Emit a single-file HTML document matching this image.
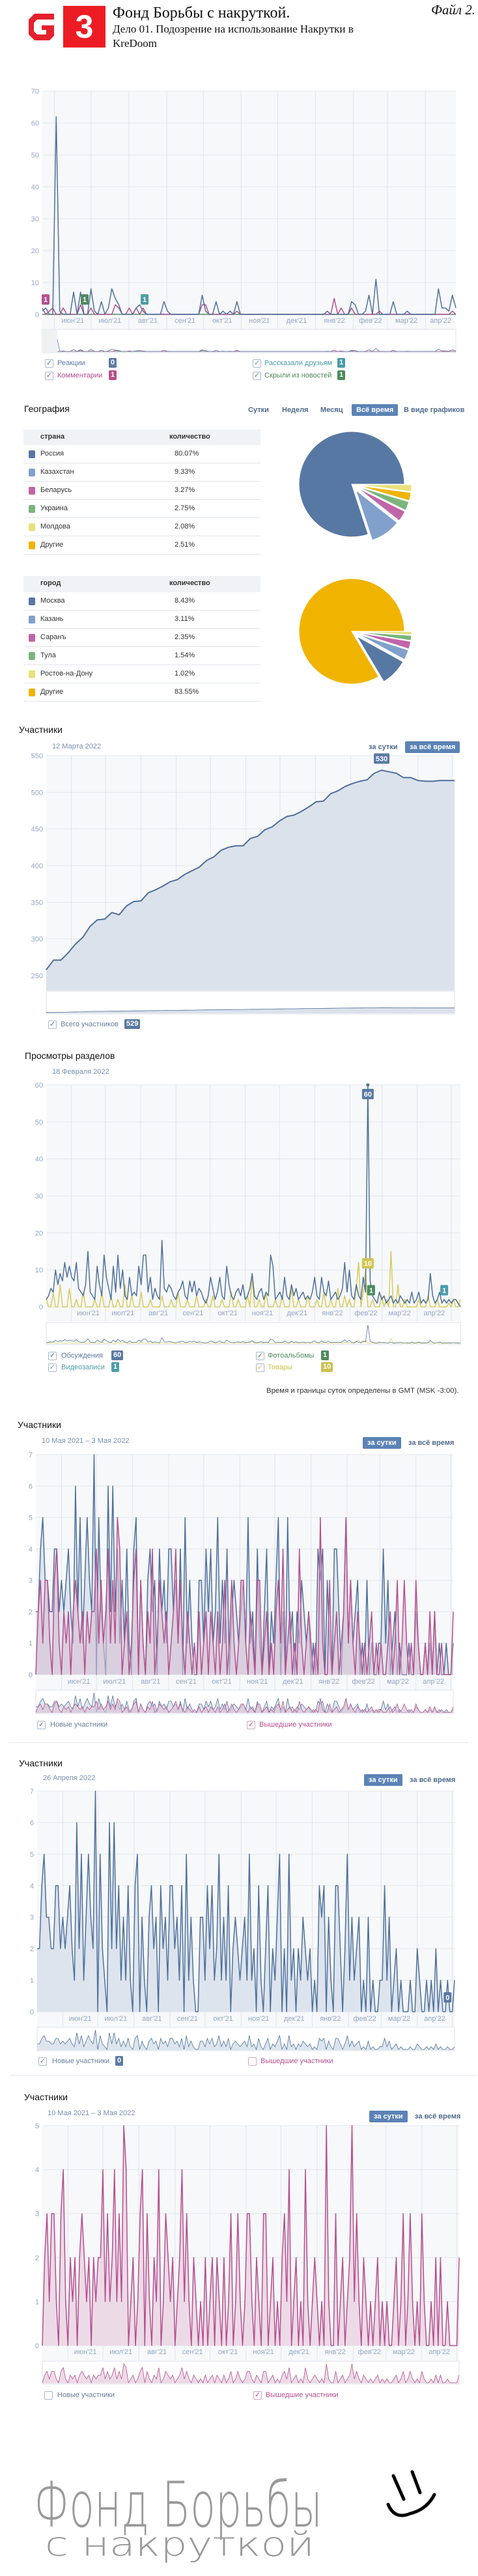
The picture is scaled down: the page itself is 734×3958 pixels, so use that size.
<!DOCTYPE html>
<html lang="ru"><head><meta charset="utf-8"><title>Фонд Борьбы с накруткой — Дело 01</title>
<style>
html,body{margin:0;padding:0;background:#fff;}
body{width:734px;height:3958px;position:relative;overflow:hidden;font-family:"Liberation Sans","DejaVu Sans",sans-serif;}
.a{position:absolute;white-space:nowrap;}
.serif{font-family:"Liberation Serif","DejaVu Serif",serif;color:#111;}
.ttl{font-size:14px;color:#111;line-height:16px;}
.date{font-size:11px;color:#7890b3;line-height:12px;}
.btn{font-size:11px;line-height:18px;height:18px;color:#4f6a8c;font-weight:bold;padding:0 7px;border-radius:2px;}
.btn.on{background:#5b83b5;color:#fff;}
.cb{position:absolute;width:11px;height:11px;border:1px solid #a9b8cc;border-radius:2px;font-size:11px;line-height:11px;text-align:center;}
.lg{font-size:11px;line-height:12px;}
.bd{position:absolute;color:#fff;font-size:11px;line-height:15px;height:15px;padding:0 3px;border-radius:2px;font-weight:bold;}
.th{font-size:11px;font-weight:bold;color:#333;}
.td{font-size:11px;color:#333;}
.sq{position:absolute;width:10px;height:12px;border-radius:2px;}
</style></head>
<body>

<svg class="a" style="left:44px;top:21px" width="39" height="41" viewBox="0 0 39 41"><path d="M9 0H39V9H13L8 14V27L13 32H27V25H20V18H39V34L32 41H9L0 32V9Z" fill="#e5212b"/></svg>
<div class="a" style="left:97px;top:9px;width:65px;height:64px;background:#ed1c24;color:#fff;font-weight:bold;font-size:50px;line-height:64px;text-align:center;">3</div>
<div class="a serif" style="left:173px;top:6px;font-size:24px;line-height:28px;">Фонд Борьбы с накруткой.</div>
<div class="a serif" style="left:173px;top:35px;font-size:17px;line-height:20px;">Дело 01. Подозрение на использование Накрутки в</div>
<div class="a serif" style="left:173px;top:57px;font-size:17px;line-height:20px;">KreDoom</div>
<div class="a serif" style="left:662px;top:3px;font-size:21px;line-height:24px;font-style:italic;">Файл 2.</div>

<svg id="charts" class="a" style="left:0;top:0" width="734" height="3958"></svg>

<!-- chart1 legend -->
<div class="cb" style="left:69px;top:552px;color:#5a7aa3">✓</div>
<div class="a lg" style="left:88px;top:552px;color:#5a7aa3">Реакции</div>
<div class="bd" style="left:167px;top:550px;background:#5a7aa3">0</div>
<div class="cb" style="left:69px;top:571px;color:#b5508f">✓</div>
<div class="a lg" style="left:88px;top:571px;color:#b5508f">Комментарии</div>
<div class="bd" style="left:167px;top:569px;background:#b5508f">1</div>
<div class="cb" style="left:388px;top:552px;color:#4b9ca8">✓</div>
<div class="a lg" style="left:406px;top:552px;color:#4b9ca8">Рассказали друзьям</div>
<div class="bd" style="left:518px;top:550px;background:#4b9ca8">1</div>
<div class="cb" style="left:388px;top:571px;color:#4e8a5e">✓</div>
<div class="a lg" style="left:406px;top:571px;color:#4e8a5e">Скрыли из новостей</div>
<div class="bd" style="left:518px;top:569px;background:#4e8a5e">1</div>

<!-- geography -->
<div class="a ttl" style="left:37px;top:620px;">География</div>
<div class="a btn" style="left:374px;top:621px;">Сутки</div>
<div class="a btn" style="left:426px;top:621px;">Неделя</div>
<div class="a btn" style="left:485px;top:621px;">Месяц</div>
<div class="a btn on" style="left:540px;top:621px;">Всё время</div>
<div class="a btn" style="left:613px;top:621px;">В виде графиков</div>

<div class="a" style="left:36px;top:660px;width:364px;">
 <div style="height:24px;background:#f0f2f5;position:relative"><span class="a th" style="left:26px;top:5px">страна</span><span class="a th" style="left:224px;top:5px">количество</span></div>
 <div style="height:27px;border-bottom:1px solid #e2e5ea;position:relative"><span class="sq" style="left:8px;top:8px;background:#5878a4"></span><span class="a td" style="left:26px;top:7px">Россия</span><span class="a td" style="left:232px;top:7px">80.07%</span></div>
 <div style="height:27px;border-bottom:1px solid #e2e5ea;position:relative"><span class="sq" style="left:8px;top:8px;background:#81a1cc"></span><span class="a td" style="left:26px;top:7px">Казахстан</span><span class="a td" style="left:232px;top:7px">9.33%</span></div>
 <div style="height:27px;border-bottom:1px solid #e2e5ea;position:relative"><span class="sq" style="left:8px;top:8px;background:#c066a8"></span><span class="a td" style="left:26px;top:7px">Беларусь</span><span class="a td" style="left:232px;top:7px">3.27%</span></div>
 <div style="height:27px;border-bottom:1px solid #e2e5ea;position:relative"><span class="sq" style="left:8px;top:8px;background:#79b57c"></span><span class="a td" style="left:26px;top:7px">Украина</span><span class="a td" style="left:232px;top:7px">2.75%</span></div>
 <div style="height:27px;border-bottom:1px solid #e2e5ea;position:relative"><span class="sq" style="left:8px;top:8px;background:#e8e17a"></span><span class="a td" style="left:26px;top:7px">Молдова</span><span class="a td" style="left:232px;top:7px">2.08%</span></div>
 <div style="height:27px;border-bottom:1px solid #e2e5ea;position:relative"><span class="sq" style="left:8px;top:8px;background:#f0b400"></span><span class="a td" style="left:26px;top:7px">Другие</span><span class="a td" style="left:232px;top:7px">2.51%</span></div>
</div>

<div class="a" style="left:36px;top:885px;width:364px;">
 <div style="height:25px;background:#f0f2f5;position:relative"><span class="a th" style="left:26px;top:5px">город</span><span class="a th" style="left:224px;top:5px">количество</span></div>
 <div style="height:27px;border-bottom:1px solid #e2e5ea;position:relative"><span class="sq" style="left:8px;top:8px;background:#5878a4"></span><span class="a td" style="left:26px;top:7px">Москва</span><span class="a td" style="left:232px;top:7px">8.43%</span></div>
 <div style="height:27px;border-bottom:1px solid #e2e5ea;position:relative"><span class="sq" style="left:8px;top:8px;background:#81a1cc"></span><span class="a td" style="left:26px;top:7px">Казань</span><span class="a td" style="left:232px;top:7px">3.11%</span></div>
 <div style="height:27px;border-bottom:1px solid #e2e5ea;position:relative"><span class="sq" style="left:8px;top:8px;background:#c066a8"></span><span class="a td" style="left:26px;top:7px">Саранъ</span><span class="a td" style="left:232px;top:7px">2.35%</span></div>
 <div style="height:27px;border-bottom:1px solid #e2e5ea;position:relative"><span class="sq" style="left:8px;top:8px;background:#79b57c"></span><span class="a td" style="left:26px;top:7px">Тула</span><span class="a td" style="left:232px;top:7px">1.54%</span></div>
 <div style="height:27px;border-bottom:1px solid #e2e5ea;position:relative"><span class="sq" style="left:8px;top:8px;background:#e8e17a"></span><span class="a td" style="left:26px;top:7px">Ростов-на-Дону</span><span class="a td" style="left:232px;top:7px">1.02%</span></div>
 <div style="height:27px;border-bottom:1px solid #e2e5ea;position:relative"><span class="sq" style="left:8px;top:8px;background:#f0b400"></span><span class="a td" style="left:26px;top:7px">Другие</span><span class="a td" style="left:232px;top:7px">83.55%</span></div>
</div>

<!-- members total -->
<div class="a ttl" style="left:29px;top:1113px;">Участники</div>
<div class="a date" style="left:80px;top:1141px;">12 Марта 2022</div>
<div class="a btn" style="left:559px;top:1139px;">за сутки</div>
<div class="a btn on" style="left:622px;top:1139px;">за всё время</div>
<div class="cb" style="left:74px;top:1568px;color:#5a7aa3">✓</div>
<div class="a lg" style="left:93px;top:1568px;color:#6b7f9c">Всего участников</div>
<div class="bd" style="left:191px;top:1566px;background:#5a7aa3">529</div>

<!-- section views -->
<div class="a ttl" style="left:38px;top:1614px;">Просмотры разделов</div>
<div class="a date" style="left:80px;top:1641px;">18 Февраля 2022</div>
<div class="cb" style="left:74px;top:2077px;color:#5a7aa3">✓</div>
<div class="a lg" style="left:94px;top:2077px;color:#5a7aa3">Обсуждения</div>
<div class="bd" style="left:171px;top:2075px;background:#5a7aa3">60</div>
<div class="cb" style="left:74px;top:2095px;color:#4b9ca8">✓</div>
<div class="a lg" style="left:94px;top:2095px;color:#4b9ca8">Видеозаписи</div>
<div class="bd" style="left:171px;top:2093px;background:#4b9ca8">1</div>
<div class="cb" style="left:393px;top:2077px;color:#4e8a5e">✓</div>
<div class="a lg" style="left:411px;top:2077px;color:#4e8a5e">Фотоальбомы</div>
<div class="bd" style="left:493px;top:2075px;background:#4e8a5e">1</div>
<div class="cb" style="left:393px;top:2095px;color:#c9c050">✓</div>
<div class="a lg" style="left:411px;top:2095px;color:#c9c050">Товары</div>
<div class="bd" style="left:493px;top:2093px;background:#c9c050">10</div>
<div class="a" style="left:409px;top:2131px;font-size:11.4px;color:#333;">Время и границы суток определены в GMT (MSK -3:00).</div>

<!-- members daily 1 -->
<div class="a ttl" style="left:27px;top:2181px;">Участники</div>
<div class="a date" style="left:64px;top:2208px;">10 Мая 2021 – 3 Мая 2022</div>
<div class="a btn on" style="left:557px;top:2208px;">за сутки</div>
<div class="a btn" style="left:620px;top:2208px;">за всё время</div>
<div class="cb" style="left:57px;top:2644px;color:#5a7aa3">✓</div>
<div class="a lg" style="left:77px;top:2644px;color:#6b7f9c">Новые участники</div>
<div class="cb" style="left:379px;top:2644px;color:#b5508f;border-color:#d3a5c4">✓</div>
<div class="a lg" style="left:398px;top:2644px;color:#b5508f">Вышедшие участники</div>
<div class="a" style="left:13px;top:2677px;width:706px;height:1px;background:#e3e6ea"></div>

<!-- members daily 2 -->
<div class="a ttl" style="left:29px;top:2701px;">Участники</div>
<div class="a date" style="left:66px;top:2726px;">26 Апреля 2022</div>
<div class="a btn on" style="left:559px;top:2726px;">за сутки</div>
<div class="a btn" style="left:622px;top:2726px;">за всё время</div>
<div class="cb" style="left:59px;top:3161px;color:#5a7aa3">✓</div>
<div class="a lg" style="left:80px;top:3161px;color:#6b7f9c">Новые участники</div>
<div class="bd" style="left:177px;top:3159px;background:#5a7aa3">0</div>
<div class="cb" style="left:381px;top:3161px;border-color:#d3a5c4"></div>
<div class="a lg" style="left:400px;top:3161px;color:#b5508f">Вышедшие участники</div>
<div class="a" style="left:15px;top:3188px;width:717px;height:1px;background:#e3e6ea"></div>

<!-- members daily 3 -->
<div class="a ttl" style="left:37px;top:3214px;">Участники</div>
<div class="a date" style="left:73px;top:3241px;">10 Мая 2021 – 3 Мая 2022</div>
<div class="a btn on" style="left:567px;top:3243px;">за сутки</div>
<div class="a btn" style="left:630px;top:3243px;">за всё время</div>
<div class="cb" style="left:68px;top:3674px;"></div>
<div class="a lg" style="left:88px;top:3674px;color:#6b7f9c">Новые участники</div>
<div class="cb" style="left:389px;top:3674px;color:#b5508f;border-color:#d3a5c4">✓</div>
<div class="a lg" style="left:408px;top:3674px;color:#b5508f">Вышедшие участники</div>

<!-- handwriting -->
<svg class="a" style="left:0;top:3760px" width="734" height="198">
 <text x="52" y="122" textLength="443" lengthAdjust="spacingAndGlyphs" font-family="DejaVu Sans, sans-serif" font-weight="200" font-size="96" fill="#9a9a9a">Фонд Борьбы</text>
 <text x="69" y="167" textLength="414" lengthAdjust="spacingAndGlyphs" font-family="DejaVu Sans, sans-serif" font-weight="200" font-size="52" fill="#9a9a9a">с накруткой</text>
 <g fill="none" stroke="#000" stroke-width="5" stroke-linecap="round">
  <path d="M604 44 L620 80"/><path d="M633 38 L645 70"/><path d="M596 88 Q606 112 630 102 Q655 96 667 73"/>
 </g>
</svg>

<script>
const NS = 'http://www.w3.org/2000/svg';
const svg = document.getElementById('charts');

/* ---------- data ---------- */
const monthStarts = ['2021-06-01','2021-07-01','2021-08-01','2021-09-01','2021-10-01','2021-11-01','2021-12-01','2022-01-01','2022-02-01','2022-03-01','2022-04-01','2022-05-01'];
const monthLabels = ["июн'21","июл'21","авг'21","сен'21","окт'21","ноя'21","дек'21","янв'22","фев'22","мар'22","апр'22"];

const countryNames = ['Россия','Казахстан','Беларусь','Украина','Другие','Молдова'];
const countryShares = [80.07,9.33,3.27,2.75,2.51,2.08];
const countryColors = ['#5878a4','#81a1cc','#c066a8','#79b57c','#f0b400','#e8e17a'];
const cityNames = ['Другие','Москва','Казань','Сарань','Тула','Ростов-на-Дону'];
const cityShares = [83.55,8.43,3.11,2.35,1.54,1.02];
const cityColors = ['#f0b400','#5878a4','#81a1cc','#c066a8','#79b57c','#e8e17a'];

const activityTicks = [0,10,20,30,40,50,60,70];
const reactions = [1,2,0,0,62,1,0,0,0,7, 0,7,0,0,8,1,0,4,0,2, 8,5,3,0,0,0,0,2,3,1, 0,0,0,0,0,4,1,0,0,0, 0,0,0,0,0,0,6,1,0,0, 4,0,1,0,1,0,4,0,0,0, 0,0,0,0,0,0,0,0,0,0, 0,0,0,0,0,0,0,0,0,0, 0,0,1,0,0,0,0,0,0,4, 3,0,0,1,6,0,11,0,0,0, 0,4,0,0,0,1,0,0,0,0, 0,0,0,0,8,2,2,1,6,2];
const comments = [2,0,1,2,0,0,2,0,0,0, 0,3,0,0,2,0,0,0,0,0, 0,3,2,0,0,2,0,2,0,2, 0,0,0,0,0,0,0,0,0,0, 0,0,0,0,0,0,3,3,0,0, 0,0,0,0,0,0,1,0,0,0, 0,0,0,0,0,0,0,0,0,0, 0,0,0,0,0,0,0,0,0,0, 0,0,0,0,5,0,2,0,0,2, 0,0,0,0,0,0,0,1,0,0, 0,0,0,0,0,0,0,0,0,0, 0,0,0,0,0,0,0,0,1,0];
const hiddenFromNews = [0,0,0,0,0,0,0,0,0,0, 0,0,0,0,0,0,0,0,0,0, 0,0,0,0,0,0,0,0,0,0, 0,0,0,0,0,0,0,0,0,0, 0,0,0,0,0,0,0,0,0,0, 0,0,0,0,0,0,0,0,0,0, 0,0,0,0,0,0,0,0,0,0, 0,0,0,0,0,0,0,0,0,0, 0,0,0,0,0,0,0,0,0,0, 0,0,0,0,0,0,0,0,0,0, 0,0,0,0,0,0,0,0,0,0, 0,0,0,0,0,0,0,0,0,0];

const totalTicks = [250,300,350,400,450,500,550];
const totalMembers = [258,271,271,281,293,302,317,326,327,336,333,345,351,352,363,367,372,378,381,388,393,398,407,412,421,425,427,427,437,440,449,453,461,467,469,474,480,487,488,498,502,508,512,515,517,526,530,528,526,520,520,516,515,515,516,516,516];

const viewTicks = [0,10,20,30,40,50,60];
const discussions = [2,3,5,4,10,6,9,7,12,8, 11,8,7,12,5,4,3,6,15,4, 3,2,11,6,3,14,8,5,2,11, 4,14,5,10,3,2,8,3,4,3, 11,6,14,14,4,8,2,5,3,2, 18,5,4,6,5,3,2,4,5,7, 3,2,7,4,7,3,5,4,2,1, 3,8,5,2,4,8,3,2,11,6, 3,2,4,5,3,6,2,3,5,9, 3,2,4,5,2,4,3,14,11,2, 3,4,2,8,3,2,6,3,5,2, 3,4,2,3,2,4,8,3,2,8, 4,3,7,2,3,4,2,3,5,12, 4,10,3,2,6,3,2,8,4,60, 7,3,2,1,4,2,3,1,2,3, 1,2,1,3,2,1,2,1,4,1, 2,4,1,2,1,2,9,3,1,2, 4,1,2,1,2,1,2,2,1,0];
const goods = [2,0,0,4,0,0,6,0,0,0, 5,0,0,2,0,0,4,0,0,0, 0,2,0,0,4,0,0,0,3,0, 0,2,0,0,6,0,0,3,0,0, 0,4,0,0,0,2,0,0,0,0, 3,0,0,0,2,0,0,4,0,0, 0,2,0,0,0,3,0,0,0,2, 0,0,3,0,0,0,2,0,0,0, 4,0,0,2,0,0,0,3,0,8, 0,0,2,0,0,4,0,0,0,2, 0,0,3,0,0,0,5,0,0,2, 0,0,0,3,0,0,0,2,0,0, 4,0,0,2,0,0,5,0,0,3, 0,2,0,0,5,12,0,4,10,0, 0,2,0,0,0,3,0,2,0,15, 0,0,6,0,0,2,0,0,0,0, 0,2,0,0,0,3,0,0,0,2, 0,0,0,0,1,0,2,0,0,2];

const dailyTicks7 = [0,1,2,3,4,5,6,7];
const dailyTicks5 = [0,1,2,3,4,5];
const newMembers = [2,2,4,5,3,3,2,2,4,4, 2,3,2,3,4,2,1,6,2,5, 1,3,5,3,2,7,0,5,2,1, 0,6,2,6,2,4,1,3,1,4, 1,0,4,5,0,3,1,0,3,4, 2,3,0,4,2,3,1,4,4,2, 3,1,4,0,5,1,3,1,0,0, 3,3,1,4,2,4,1,2,5,1, 3,1,4,0,2,3,2,1,2,3, 1,5,1,2,0,4,1,0,2,4, 0,2,1,3,5,0,2,0,5,1, 2,0,2,1,3,2,1,2,0,1, 0,4,3,4,0,3,1,0,4,4, 2,0,2,5,1,3,1,2,3,0, 1,0,3,0,1,0,0,1,1,4, 1,3,0,1,2,0,1,0,0,0, 1,0,0,2,1,0,0,1,0,1, 0,2,0,1,0,0,1,0,0,1];
const leftMembers = [0,2,3,1,3,3,1,0,3,4, 1,0,2,1,2,0,2,3,2,1, 2,0,2,1,2,2,4,1,3,1, 2,4,1,3,1,5,4,0,1,2, 0,1,3,4,0,3,1,0,2,1, 4,0,1,3,2,1,2,0,1,2, 4,1,3,1,0,2,1,0,1,0, 2,0,1,2,0,2,1,0,2,0, 1,3,0,1,3,1,0,1,3,3, 1,0,2,1,0,3,3,0,1,2, 0,1,0,2,3,1,4,0,1,2, 0,1,0,4,1,0,1,2,1,0, 1,0,5,1,0,0,3,0,1,2, 0,1,2,5,1,3,1,0,2,1, 0,1,0,1,2,0,1,0,1,0, 0,1,2,0,1,3,0,1,3,1, 0,1,0,3,1,0,0,1,0,2, 0,2,0,0,1,0,0,0,0,2];

/* ---------- helpers ---------- */
function mk(tag, attrs, parent) {
  const e = document.createElementNS(NS, tag);
  for (const k in attrs) e.setAttribute(k, attrs[k]);
  (parent || svg).appendChild(e);
  return e;
}
const DAY = 86400000;
function daysBetween(a, b) { return (Date.parse(b) - Date.parse(a)) / DAY; }

function drawChart(c) {
  const g = mk('g', {});
  
  
  const W = c.x1 - c.x0;
  const total = daysBetween(c.start, c.end);
  const xDate = d => c.x0 + daysBetween(c.start, d) / total * W;
  const yScale = v => c.yZero - (v - c.vmin) / (c.vmax - c.vmin) * (c.yZero - c.yTop);
  c.yScale = yScale;

  const bg = mk('rect', {x: c.x0, y: c.yTop, width: W, height: c.yBottom - c.yTop, fill: '#f7f8fa'}, g);
  
  

  c.ticks.forEach(t => {
    const yy = yScale(t);
    const gl = mk('line', {x1: c.x0, x2: c.x1, y1: yy, y2: yy, stroke: '#e3e7ed', 'stroke-width': 1}, g);
    
    
    const tl = mk('text', {x: c.x0 - 5, y: yy + 4, 'text-anchor': 'end', 'font-size': 11, fill: '#93a7c4', 'font-family': 'Liberation Sans, sans-serif'}, g);
    tl.textContent = t;
    
    
  });

  const xs = monthStarts.map(xDate);
  xs.forEach((x, i) => {
    if (x < c.x0 || x > c.x1) return;
    const vl = mk('line', {x1: x, x2: x, y1: c.yTop, y2: c.yBottom, stroke: '#e0e4ea', 'stroke-width': 1}, g);
    
    
    if (i < monthLabels.length) {
      const nx = Math.min(xs[i + 1], c.x1);
      const ml = mk('text', {x: (x + nx) / 2, y: c.labelY + 4, 'text-anchor': 'middle', 'font-size': 11, fill: '#93a7c4', 'font-family': 'Liberation Sans, sans-serif'}, g);
      ml.textContent = monthLabels[i];
      
      
    }
  });

  const nav = mk('rect', {x: c.x0, y: c.navTop, width: W, height: c.navBottom - c.navTop, fill: '#fff', stroke: '#dde2ea'}, g);
  
  

  c.series.forEach(s => {
    const N = s.data.length;
    const xi = i => c.x0 + i / (N - 1) * W;
    const pts = s.data.map((v, i) => xi(i).toFixed(1) + ',' + yScale(v).toFixed(1)).join(' ');
    if (s.fill) {
      const base = c.fillTo !== undefined ? c.fillTo : yScale(c.vmin);
      const area = mk('polygon', {points: xi(0) + ',' + base + ' ' + pts + ' ' + xi(N - 1) + ',' + base, fill: s.fill, 'fill-opacity': s.fillOpacity || 1}, g);
      
      
    }
    const line = mk('polyline', {points: pts, fill: 'none', stroke: s.color, 'stroke-width': s.width || 1.5, 'stroke-linejoin': 'round'}, g);
    
    

    const nmax = c.navMax || c.vmax;
    const ny = v => c.navBottom - 2 - (v - c.vmin) / (nmax - c.vmin) * (c.navBottom - c.navTop - 6);
    const npts = s.data.map((v, i) => xi(i).toFixed(1) + ',' + ny(v).toFixed(1)).join(' ');
    if (s.fill) {
      const na = mk('polygon', {points: xi(0) + ',' + (c.navBottom - 1) + ' ' + npts + ' ' + xi(N - 1) + ',' + (c.navBottom - 1), fill: s.fill, 'fill-opacity': s.fillOpacity || 1}, g);
      
      
    }
    const nl = mk('polyline', {points: npts, fill: 'none', stroke: s.color, 'stroke-width': 0.8}, g);
    
    
    s.xi = xi;
  });
  return c;
}

function bubble(x, y, text, color, name) {
  const w = 6 + text.length * 6;
  const r = mk('rect', {x: x - w / 2, y: y - 8, width: w, height: 16, rx: 2, fill: color});
  
  
  const t = mk('text', {x: x, y: y + 4, 'text-anchor': 'middle', 'font-size': 11, 'font-weight': 'bold', fill: '#fff', 'font-family': 'Liberation Sans, sans-serif'});
  t.textContent = text;
  
  
}

function drawPie(cx, cy, r, shares, colors, names, prefix) {
  const total = shares.reduce((a, b) => a + b, 0);
  let a0 = 0;
  shares.forEach((v, i) => {
    const sweep = v / total * Math.PI * 2;
    const a1 = a0 + sweep;
    const mid = (a0 + a1) / 2;
    const off = i === 0 ? 0 : 11;
    const ox = cx + off * Math.cos(mid), oy = cy - off * Math.sin(mid);
    const x0 = ox + r * Math.cos(a0), y0 = oy - r * Math.sin(a0);
    const x1 = ox + r * Math.cos(a1), y1 = oy - r * Math.sin(a1);
    const large = sweep > Math.PI ? 1 : 0;
    const p = mk('path', {d: `M${ox},${oy} L${x0},${y0} A${r},${r} 0 ${large} 0 ${x1},${y1} Z`, fill: colors[i], stroke: '#fff', 'stroke-width': 1});
    
    
    a0 = a1;
  });
}

/* ---------- charts ---------- */
const c1 = drawChart({name: 'activity-chart', x0: 65, x1: 700, yTop: 140, yZero: 483, yBottom: 506, labelY: 492,
  navTop: 506, navBottom: 542, vmin: 0, vmax: 70, ticks: activityTicks, start: '2021-05-22', end: '2022-04-26',
  series: [
    {name: 'hidden-from-news', data: hiddenFromNews, color: '#4e8a5e'},
    {name: 'comments', data: comments, color: '#b5508f'},
    {name: 'reactions', data: reactions, color: '#4f719c'}
  ]});
const selBox = mk('rect', {x: 65, y: 507, width: 23, height: 34, fill: '#eef0f3'});


bubble(c1.series[1].xi(0) + 5, c1.yScale(1) - 18, '1', '#b5508f', 'comments-marker');
bubble(c1.series[1].xi(12) + 1, c1.yScale(1) - 18, '1', '#4e8a5e', 'hidden-marker');
bubble(c1.series[1].xi(30) - 3, c1.yScale(1) - 18, '1', '#4b9ca8', 'shares-marker');

drawPie(540, 744, 81, countryShares, countryColors, countryNames, 'country-pie');
drawPie(540, 970, 81, cityShares, cityColors, cityNames, 'city-pie');

const c3 = drawChart({name: 'total-members-chart', x0: 71, x1: 698, yTop: 1161, yZero: 1499, yBottom: 1522, labelY: 1509,
  navTop: 1523, navBottom: 1558, vmin: 250, vmax: 550, ticks: totalTicks, start: '2021-05-10', end: '2022-05-03',
  fillTo: 1522, navMax: 1300,
  series: [{name: 'total-members', data: totalMembers, color: '#4f6f99', fill: '#dbe2ec', width: 2}]});
const peakIdx = totalMembers.indexOf(Math.max(...totalMembers));
bubble(c3.series[0].xi(peakIdx), c3.yScale(totalMembers[peakIdx]) - 18, String(totalMembers[peakIdx]), '#5a7aa3', 'peak-marker');

const c4 = drawChart({name: 'section-views-chart', x0: 71, x1: 707, yTop: 1667, yZero: 2008, yBottom: 2030, labelY: 2017,
  navTop: 2032, navBottom: 2066, vmin: 0, vmax: 60, ticks: viewTicks, start: '2021-05-10', end: '2022-05-09',
  series: [
    {name: 'goods', data: goods, color: '#d6cc5a'},
    {name: 'discussions', data: discussions, color: '#4f719c'}
  ]});
const dPeak = discussions.indexOf(Math.max(...discussions));
const dot = mk('circle', {cx: c4.series[1].xi(dPeak), cy: c4.yScale(discussions[dPeak]), r: 2.5, fill: '#4f719c'});


bubble(c4.series[1].xi(dPeak), c4.yScale(discussions[dPeak]) + 14, String(discussions[dPeak]), '#5a7aa3', 'discussions-marker');
bubble(c4.series[1].xi(dPeak), c4.yScale(goods[dPeak - 1]) - 10, String(goods[dPeak - 1]), '#d0c552', 'goods-marker');
bubble(c4.series[1].xi(dPeak) + 5, c4.yScale(1) - 20, '1', '#4e8a5e', 'photos-marker');
bubble(c4.series[1].xi(172), c4.yScale(1) - 20, '1', '#4b9ca8', 'videos-marker');

drawChart({name: 'members-daily-chart', x0: 55, x1: 696, yTop: 2235, yZero: 2573, yBottom: 2597, labelY: 2583,
  navTop: 2597, navBottom: 2633, vmin: 0, vmax: 7, ticks: dailyTicks7, start: '2021-05-10', end: '2022-05-03',
  series: [
    {name: 'new-members', data: newMembers, color: '#4f719c', fill: '#dfe5ee'},
    {name: 'left-members', data: leftMembers, color: '#b5508f', fill: '#d7c0d3', fillOpacity: 0.6}
  ]});

const c6 = drawChart({name: 'new-members-chart', x0: 57, x1: 698, yTop: 2752, yZero: 3091, yBottom: 3114, labelY: 3101,
  navTop: 3115, navBottom: 3151, vmin: 0, vmax: 7, ticks: dailyTicks7, start: '2021-05-10', end: '2022-05-03',
  series: [{name: 'new-members-only', data: newMembers, color: '#4f719c', fill: '#dde4ed'}]});
bubble(c6.series[0].xi(newMembers.length - 4), c6.yScale(0) - 22, '0', '#5a7aa3', 'new-members-marker');

drawChart({name: 'left-members-chart', x0: 65, x1: 705, yTop: 3266, yZero: 3604, yBottom: 3627, labelY: 3613,
  navTop: 3628, navBottom: 3663, vmin: 0, vmax: 5, ticks: dailyTicks5, start: '2021-05-10', end: '2022-05-03',
  series: [{name: 'left-members-only', data: leftMembers, color: '#b5508f', fill: '#ecdbe7'}]});
</script>
</body></html>
